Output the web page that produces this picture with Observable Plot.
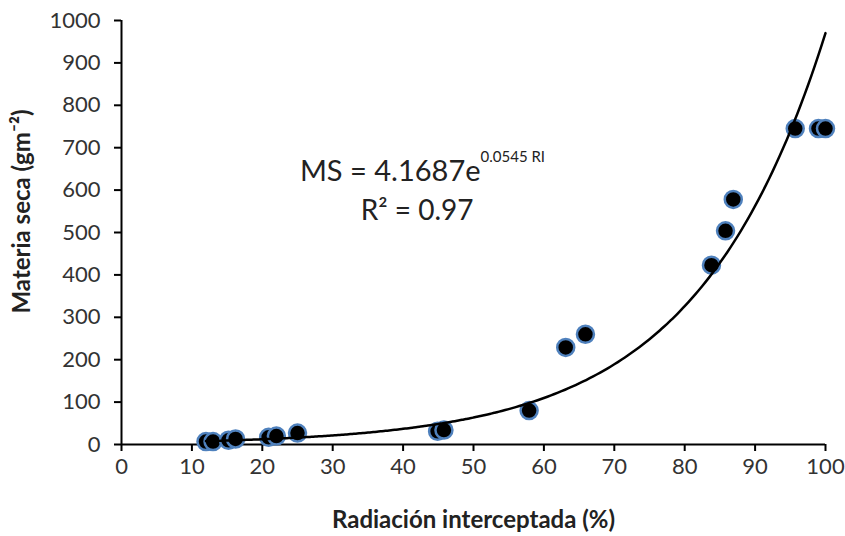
<!DOCTYPE html>
<html>
<head>
<meta charset="utf-8">
<script src="https://cdn.jsdelivr.net/npm/d3@7"></script>
<script src="https://cdn.jsdelivr.net/npm/@observablehq/plot@0.6"></script>
<style>
  html, body { margin: 0; padding: 0; background: #fff; }
  #chart svg { display: block; }
</style>
</head>
<body>
<div id="chart"></div>
<script>
// Radiación interceptada (%) — observed points
const radiacion = [12, 13, 15.2, 16.2, 20.9, 22, 25, 44.9, 45.8, 57.9, 63.1, 65.9, 83.8, 85.8, 86.9, 95.7, 99, 100];
// Materia seca (g m-2) — observed points
const materiaSeca = [7, 7, 10, 13, 17, 20, 27, 31, 34, 80, 229, 260, 423, 504, 578, 745, 745, 745];

// Exponential trend fitted in the original: MS = a * e^(b * RI)
const fitA = 4.1687;
const fitB = 0.0545;
const fitRange = [12, 100];

const xTicks = [0, 10, 20, 30, 40, 50, 60, 70, 80, 90, 100];
const yTicks = [0, 100, 200, 300, 400, 500, 600, 700, 800, 900, 1000];

const points = radiacion.map((x, i) => ({x, y: materiaSeca[i]}));
const trend = d3.range(fitRange[0], fitRange[1] + 0.001, 0.5).map(x => ({x, y: fitA * Math.exp(fitB * x)}));

const font = "Lato, 'Open Sans', sans-serif";

const chart = Plot.plot({
  width: 845,
  height: 536,
  marginLeft: 121,
  marginRight: 20,
  marginTop: 20,
  marginBottom: 92,
  style: {fontFamily: font, fontSize: "22px", color: "#333", background: "#fff"},
  x: {domain: [0, 100], ticks: xTicks, label: null},
  y: {domain: [0, 1000], ticks: yTicks, label: null},
  marks: [
    Plot.axisX({ticks: xTicks, tickFormat: "d", tickSize: 7, tickPadding: 7, fontSize: 22, stroke: "#000", strokeWidth: 2, label: null}),
    Plot.axisY({ticks: yTicks, tickFormat: "d", tickSize: 7, tickPadding: 14, fontSize: 22, stroke: "#000", strokeWidth: 2, label: null}),
    Plot.ruleY([0], {stroke: "#000", strokeWidth: 2}),
    Plot.ruleX([0], {stroke: "#000", strokeWidth: 2}),
    Plot.dot(points, {x: "x", y: "y", r: 8.5, fill: "#000", stroke: "#4f81bd", strokeWidth: 2.5}),
    Plot.line(trend, {x: "x", y: "y", stroke: "#000", strokeWidth: 2.5, curve: "natural"}),
    Plot.text(["MS = 4.1687e"], {x: 51, y: 644, text: d => d, textAnchor: "end", fontSize: 29, fill: "#222"}),
    Plot.text(["0.0545 RI"], {x: 51, y: 644, text: d => d, textAnchor: "start", dy: -14, fontSize: 15, fill: "#222"}),
    Plot.text(["R² = 0.97"], {x: 42, y: 550, text: d => d, fontSize: 28, fill: "#222"}),
    Plot.text(["Radiación interceptada (%)"], {frameAnchor: "bottom", dy: 76, lineAnchor: "middle", text: d => d, fontSize: 24, fontWeight: "bold", fill: "#222"}),
    Plot.text(["Materia seca (gm⁻²)"], {frameAnchor: "left", dx: -99, dy: -21, rotate: -90, textAnchor: "middle", lineAnchor: "middle", text: d => d, fontSize: 24, fontWeight: "bold", fill: "#222"})
  ]
});
document.getElementById("chart").appendChild(chart);
</script>
</body>
</html>
